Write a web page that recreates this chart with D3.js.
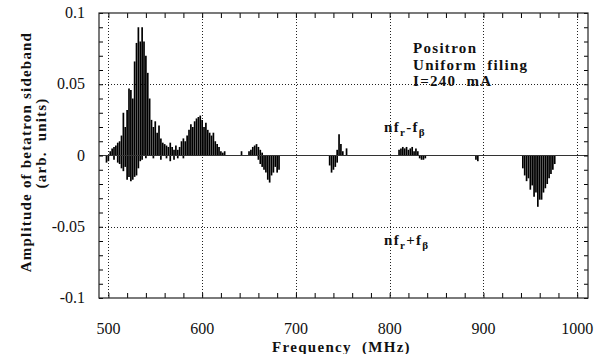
<!DOCTYPE html>
<html>
<head>
<meta charset="utf-8">
<script src="https://cdn.jsdelivr.net/npm/d3@7"></script>
<style>
  body { margin: 0; background: #fff; }
</style>
</head>
<body>
<svg id="chart" width="605" height="354"></svg>
<script>
// nf_r - f_beta sideband (upper, positive)
var upperFreq = [502, 504, 506, 508, 510, 512, 514, 516, 518, 520, 522, 524, 526, 528, 530, 532, 534, 536, 538, 540,
	542, 544, 546, 548, 550, 552, 554, 556, 558, 560, 562, 564, 566, 568, 570, 572, 574, 576, 578, 580,
	582, 584, 586, 588, 590, 592, 594, 596, 598, 600, 602, 604, 606, 608, 610, 612, 614, 616, 618, 620,
	622, 624, 642, 650, 652, 654, 656, 658, 660, 662, 664, 744, 746, 748, 750, 754,
	810, 812, 814, 816, 818, 820, 822, 824, 826, 828, 830];
var upperAmp = [0.003, 0.005, 0.006, 0.007, 0.009, 0.010, 0.014, 0.030, 0.020, 0.032, 0.047, 0.046, 0.040, 0.066, 0.079, 0.090, 0.080, 0.090, 0.080, 0.070,
	0.058, 0.040, 0.025, 0.020, 0.024, 0.016, 0.021, 0.012, 0.009, 0.008, 0.007, 0.006, 0.009, 0.006, 0.004, 0.007, 0.004, 0.006, 0.010, 0.012,
	0.010, 0.014, 0.018, 0.022, 0.020, 0.024, 0.026, 0.027, 0.028, 0.025, 0.020, 0.023, 0.018, 0.016, 0.014, 0.016, 0.010, 0.008, 0.006, 0.003,
	0.002, 0.003, 0.003, 0.003, 0.004, 0.006, 0.007, 0.008, 0.006, 0.004, 0.002, 0.004, 0.015, 0.008, 0.003, 0.005,
	0.004, 0.005, 0.006, 0.005, 0.006, 0.004, 0.005, 0.006, 0.003, 0.005, 0.003];

// nf_r + f_beta sideband (lower, negative)
var lowerFreq = [498, 500, 506, 510, 512, 514, 516, 518, 520, 522, 524, 526, 528, 530, 532, 534, 536, 540, 548, 556,
	562, 566, 570, 574, 580, 660, 662, 664, 666, 668, 670, 672, 674, 676, 678, 680, 682,
	736, 738, 740, 742, 744, 832, 834, 836, 838, 892, 894,
	942, 944, 946, 948, 950, 952, 954, 956, 958, 960, 962, 964, 966, 968, 970, 972, 974, 976];
var lowerAmp = [-0.005, -0.004, -0.003, -0.005, -0.006, -0.009, -0.011, -0.008, -0.017, -0.015, -0.018, -0.017, -0.015, -0.014, -0.009, -0.004, -0.003, -0.002, -0.002, -0.003,
	-0.002, -0.004, -0.003, -0.002, -0.002, -0.003, -0.006, -0.008, -0.010, -0.012, -0.017, -0.019, -0.014, -0.012, -0.008, -0.012, -0.010,
	-0.007, -0.012, -0.010, -0.008, -0.005, -0.002, -0.003, -0.003, -0.002, -0.003, -0.004,
	-0.009, -0.014, -0.018, -0.016, -0.024, -0.021, -0.029, -0.026, -0.036, -0.031, -0.031, -0.026, -0.023, -0.020, -0.016, -0.013, -0.010, -0.006];

var xTicks = [500, 600, 700, 800, 900, 1000];
var yTicks = [-0.1, -0.05, 0, 0.05, 0.1];
var yTickLabels = ["-0.1", "-0.05", "0", "0.05", "0.1"];
var notes = ["Positron", "Uniform  filing", "I=240  mA"];

var FONT = "'Liberation Serif'";
var svg = d3.select("#chart");
var L = 99, R = 588, T = 13, B = 298;
var x = d3.scaleLinear().domain([490, 1011.5]).range([L, R]);
var y = d3.scaleLinear().domain([-0.1, 0.1]).range([B, T]);

// dotted grid
var grid = svg.append("g")
	.attr("stroke", "#222")
	.attr("stroke-width", 1)
	.attr("stroke-dasharray", "1,2");
grid.selectAll("line.gx").data(xTicks).enter().append("line")
	.attr("x1", function(d) { return Math.round(x(d)) + 0.5; })
	.attr("x2", function(d) { return Math.round(x(d)) + 0.5; })
	.attr("y1", T).attr("y2", B);
grid.selectAll("line.gy").data([0.05, -0.05]).enter().append("line")
	.attr("x1", L).attr("x2", R)
	.attr("y1", function(d) { return Math.round(y(d)) + 0.5; })
	.attr("y2", function(d) { return Math.round(y(d)) + 0.5; });

// spectrum lines
var bars = svg.append("g").attr("stroke", "#000").attr("stroke-width", 1.7);
bars.selectAll("line.up").data(upperFreq).enter().append("line")
	.attr("x1", function(d) { return x(d); })
	.attr("x2", function(d) { return x(d); })
	.attr("y1", y(0))
	.attr("y2", function(d, i) { return y(upperAmp[i]); });
bars.selectAll("line.dn").data(lowerFreq).enter().append("line")
	.attr("x1", function(d) { return x(d); })
	.attr("x2", function(d) { return x(d); })
	.attr("y1", y(0))
	.attr("y2", function(d, i) { return y(lowerAmp[i]); });

// zero line
svg.append("line")
	.attr("x1", L).attr("x2", R)
	.attr("y1", y(0)).attr("y2", y(0))
	.attr("stroke", "#333").attr("stroke-width", 1);

// axes: ticks inward on all four sides
var xMinor = d3.range(500, 1001, 20);
var yMinor = d3.range(-10, 11).map(function(v) { return v / 100; });
function noDomain(g) { g.select(".domain").remove(); }
svg.append("g").attr("transform", "translate(0," + B + ")")
	.call(d3.axisBottom(x).tickValues(xMinor).tickSize(-5).tickFormat(""))
	.call(noDomain);
svg.append("g").attr("transform", "translate(0," + T + ")")
	.call(d3.axisTop(x).tickValues(xMinor).tickSize(-5).tickFormat(""))
	.call(noDomain);
svg.append("g").attr("transform", "translate(" + L + ",0)")
	.call(d3.axisLeft(y).tickValues(yMinor).tickSize(-4).tickFormat(""))
	.call(noDomain);
svg.append("g").attr("transform", "translate(" + R + ",0)")
	.call(d3.axisRight(y).tickValues(yMinor).tickSize(-4).tickFormat(""))
	.call(noDomain);

// tick labels
svg.append("g").selectAll("text").data(xTicks).enter().append("text")
	.attr("x", function(d) { return x(d); })
	.attr("y", B + 36)
	.attr("text-anchor", "middle")
	.style("font-family", FONT)
	.style("font-size", "16px")
	.style("fill", "#111")
	.text(function(d) { return d; });
svg.append("g").selectAll("text").data(yTicks).enter().append("text")
	.attr("x", 85)
	.attr("y", function(d) { return y(d) + 5; })
	.attr("text-anchor", "end")
	.style("font-family", FONT)
	.style("font-size", "16px")
	.style("fill", "#111")
	.text(function(d, i) { return yTickLabels[i]; });

// frame
svg.append("rect")
	.attr("x", L).attr("y", T)
	.attr("width", R - L).attr("height", B - T)
	.attr("fill", "none").attr("stroke", "#222").attr("stroke-width", 1.2);

// bold serif text helper
function bold(t, size, spacing) {
	return t.style("font-family", FONT)
		.style("font-size", size + "px").style("font-weight", "bold")
		.style("letter-spacing", spacing + "px").style("white-space", "pre")
		.style("fill", "#111");
}

// axis titles
bold(svg.append("text")
	.attr("x", (L + R) / 2 - 2).attr("y", 351.5)
	.attr("text-anchor", "middle"), 15, 1.3)
	.text("Frequency  (MHz)");
bold(svg.append("text")
	.attr("transform", "translate(31,152) rotate(-90)")
	.attr("text-anchor", "middle"), 15, 1.2)
	.text("Amplitude of betatron sideband");
bold(svg.append("text")
	.attr("transform", "translate(46,143) rotate(-90)")
	.attr("text-anchor", "middle"), 15, 1.2)
	.text("(arb.  units)");

// annotations
svg.append("g").selectAll("text").data(notes).enter().append("text")
	.attr("x", 413)
	.attr("y", function(d, i) { return 53 + i * 16.5; })
	.call(function(s) { bold(s, 15, 1.3); })
	.text(function(d) { return d; });

function sideband(yPos, sign) {
	var t = bold(svg.append("text").attr("x", 384).attr("y", yPos), 15, 1.3);
	t.append("tspan").text("nf");
	t.append("tspan").attr("dy", 4).style("font-size", "11px").text("r");
	t.append("tspan").attr("dy", -4).text(sign + "f");
	t.append("tspan").attr("dy", 4).style("font-size", "11px").text("β");
}
sideband(132, "-");
sideband(245, "+");
</script>
</body>
</html>
